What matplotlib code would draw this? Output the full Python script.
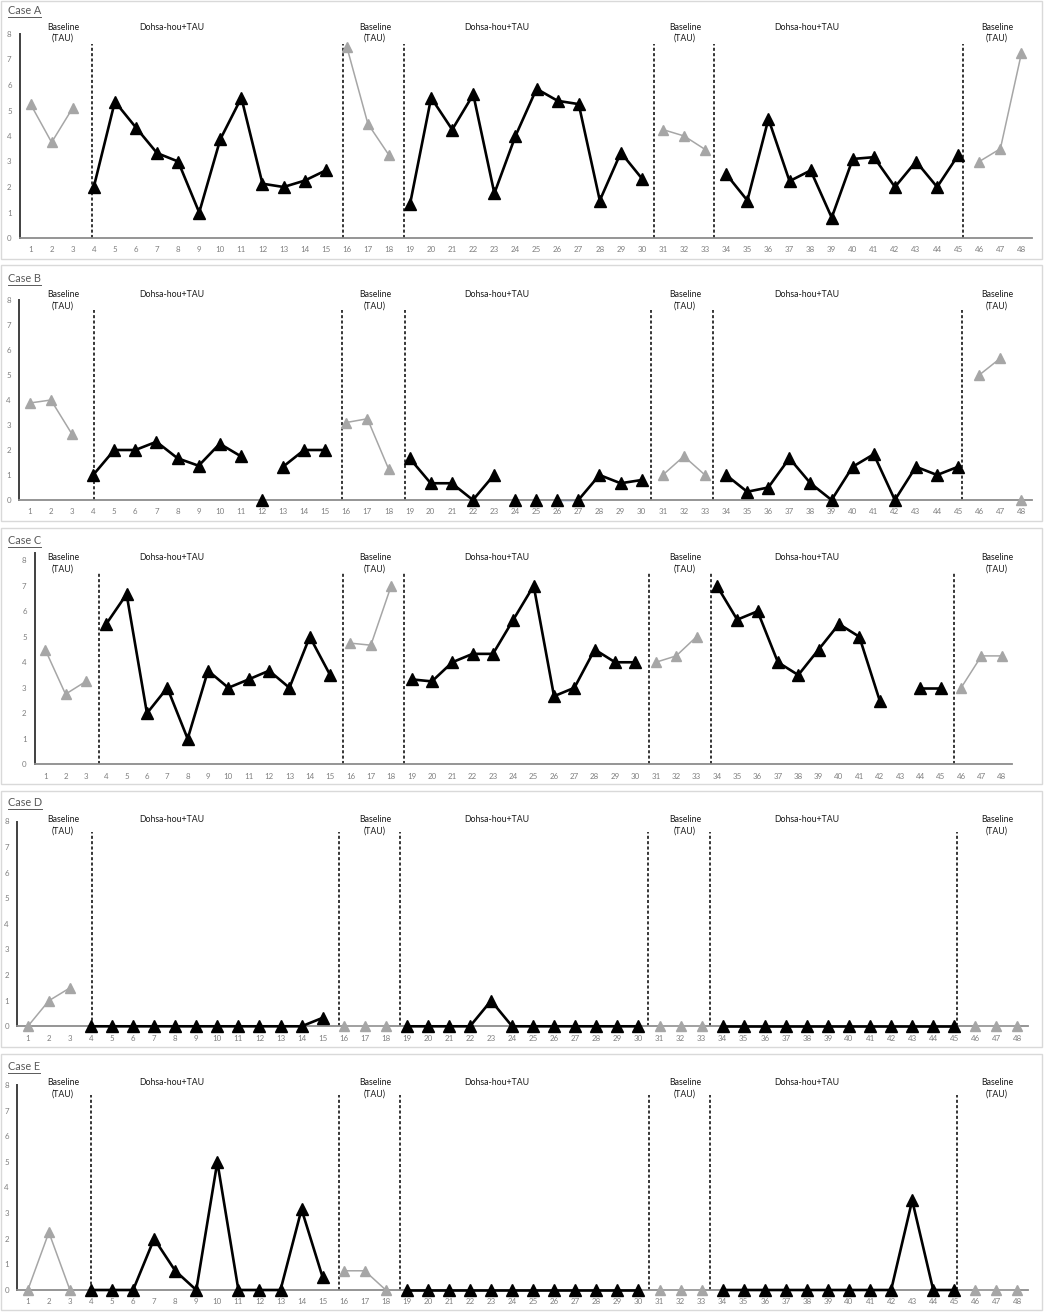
import matplotlib
matplotlib.use("Agg")
import matplotlib.pyplot as plt
import numpy as np
from matplotlib.lines import Line2D
from matplotlib.patches import Rectangle

plt.rcParams['font.family'] = ['Lato', 'DejaVu Sans']

nan = np.nan
sessions = np.arange(1, 49)

# phases: first session of each phase
phase_starts = [1, 4, 16, 19, 31, 34, 46]
phase_kinds = ['base', 'tx', 'base', 'tx', 'base', 'tx', 'base']
base_label = 'Baseline\n(TAU)'
tx_label = 'Dohsa-hou+TAU'

case_names = ['Case A', 'Case B', 'Case C', 'Case D', 'Case E']

case_a = [5.25, 3.75, 5.1,
          2.0, 5.35, 4.33, 3.33, 3.0, 1.0, 3.87, 5.5, 2.13, 2.0, 2.25, 2.65,
          7.5, 4.48, 3.25,
          1.33, 5.5, 4.25, 5.63, 1.75, 4.0, 5.85, 5.38, 5.25, 1.47, 3.35, 2.33,
          4.25, 4.0, 3.47,
          2.5, 1.47, 4.67, 2.23, 2.65, 0.8, 3.1, 3.17, 2.0, 3.0, 2.0, 3.25,
          3.0, 3.5, 7.25]
case_b = [3.88, 4.0, 2.63,
          1.0, 2.0, 2.0, 2.33, 1.67, 1.37, 2.25, 1.75, 0, 1.33, 2.0, 2.0,
          3.1, 3.25, 1.25,
          1.67, 0.67, 0.67, 0, 1.0, 0, 0, 0, 0, 1.0, 0.67, 0.8,
          1.0, 1.75, 1.0,
          1.0, 0.33, 0.5, 1.67, 0.67, 0, 1.33, 1.83, 0, 1.33, 1.0, 1.33,
          5.0, 5.67, 0]
case_c = [4.5, 2.75, 3.25,
          5.5, 6.67, 2.0, 3.0, 1.0, 3.67, 3.0, 3.33, 3.67, 3.0, 5.0, 3.5,
          4.75, 4.67, 7.0,
          3.33, 3.25, 4.0, 4.33, 4.33, 5.67, 7.0, 2.67, 3.0, 4.5, 4.0, 4.0,
          4.0, 4.25, 5.0,
          7.0, 5.67, 6.0, 4.0, 3.5, 4.5, 5.5, 5.0, 2.5, nan, 3.0, 3.0,
          3.0, 4.25, 4.25]
case_d = [0, 1.0, 1.5,
          0, 0, 0, 0, 0, 0, 0, 0, 0, 0, 0, 0.33,
          0, 0, 0,
          0, 0, 0, 0, 1.0, 0, 0, 0, 0, 0, 0, 0,
          0, 0, 0,
          0, 0, 0, 0, 0, 0, 0, 0, 0, 0, 0, 0,
          0, 0, 0]
case_e = [0, 2.25, 0,
          0, 0, 0, 2.0, 0.75, 0, 5.0, 0, 0, 0, 3.15, 0.5,
          0.75, 0.75, 0,
          0, 0, 0, 0, 0, 0, 0, 0, 0, 0, 0, 0,
          0, 0, 0,
          0, 0, 0, 0, 0, 0, 0, 0, 0, 3.5, 0, 0,
          0, 0, 0]

# sessions not joined to the previous point
breaks_b = [12, 13, 24, 25, 26, 27, 48]
blue_links_b = [(26, 27)]

all_cases = [case_a, case_b, case_c, case_d, case_e]
all_breaks = [[], breaks_b, [], [], []]
all_links = [[], blue_links_b, [], [], []]

# phase change lines (in session units) per case
phase_lines = [
    [3.92, 15.82, 18.72, 30.58, 33.42, 45.23],
    [4.05, 15.81, 18.78, 30.44, 33.40, 45.17],
    [3.64, 15.65, 18.63, 30.69, 33.70, 45.66],
    [4.03, 15.79, 18.67, 30.46, 33.39, 45.13],
    [3.99, 15.79, 18.67, 30.51, 33.39, 45.11],
]

W, H = 1045, 1312
fig = plt.figure(figsize=(W / 100, H / 100), dpi=100)

# layout in pixels: left, right, top, bottom, ymax
axes_px = [
    (20, 1032, 34, 238, 8.0),
    (19.3, 1032, 300, 500, 8.0),
    (35, 1012, 552.6, 764.3, 8.3),
    (17.3, 1028, 821.5, 1026.3, 8.0),
    (17.3, 1028, 1085, 1290, 8.0),
]
panels_px = [(1, 1, 1042, 259), (1, 265, 1042, 521), (1, 528, 1042, 784),
             (1, 791, 1042, 1047), (1, 1054, 1042, 1310)]
title_y = [10, 278, 540, 802, 1066]
base_label_y = [33, 300.5, 563.3, 825.5, 1088.5]
tx_label_y = [27, 294.7, 557, 819.7, 1082.7]
base_label_x = [63, 375, 685, 997]
tx_label_x = [172, 497, 807]

GRAY_PT = '#a6a6a6'
TEXT_GRAY = '#595959'
TICK_GRAY = '#7f7f7f'


def fx(px):
    return px / W


def fy(py):
    return 1 - py / H


def plot_run(ax, xs, ys, kind):
    if not xs:
        return
    if kind == 'base':
        ax.plot(xs, ys, color=GRAY_PT, lw=1.1, marker='^', ms=7.5,
                mfc=GRAY_PT, mec=GRAY_PT, clip_on=False, zorder=3)
    else:
        ax.plot(xs, ys, color='black', lw=1.9, marker='^', ms=8,
                mfc='black', mec='black', clip_on=False, zorder=3)


def draw_case(ax, values, breaks, links, vlines, ymax):
    vals = np.array(values, dtype=float)
    bounds = phase_starts + [49]
    for k, kind in enumerate(phase_kinds):
        xs_run, ys_run = [], []
        for s in range(bounds[k], bounds[k + 1]):
            v = vals[s - 1]
            if np.isnan(v) or s in breaks:
                plot_run(ax, xs_run, ys_run, kind)
                xs_run, ys_run = [], []
            if not np.isnan(v):
                xs_run.append(s)
                ys_run.append(v)
        plot_run(ax, xs_run, ys_run, kind)

    for a, b in links:
        ax.plot([a, b], [vals[a - 1], vals[b - 1]], color='#4472c4', lw=1.0,
                zorder=2.5, clip_on=False)

    top = 7.5 if ymax > 8 else 7.6
    for xv in vlines:
        ax.plot([xv, xv], [0, top], color='black', lw=1.1,
                linestyle=(0, (2, 1.5)), zorder=2)

    ax.set_xlim(0.5, 48.5)
    ax.set_ylim(0, ymax)
    ax.set_xticks(sessions)
    ax.set_xticklabels([str(s) for s in sessions])
    ax.set_yticks(range(0, 9))
    ax.tick_params(axis='both', length=0, labelsize=5.7, labelcolor=TICK_GRAY)
    ax.tick_params(axis='x', pad=6)
    ax.tick_params(axis='y', pad=6)
    for sp in ['top', 'right']:
        ax.spines[sp].set_visible(False)
    ax.spines['left'].set_color('#404040')
    ax.spines['left'].set_linewidth(1.4)
    ax.spines['bottom'].set_color('#8c8c8c')
    ax.spines['bottom'].set_linewidth(1.3)
    ax.patch.set_alpha(0)


for i, name in enumerate(case_names):
    x0, y0, x1, y1 = panels_px[i]
    fig.add_artist(Rectangle((fx(x0), fy(y1)), fx(x1 - x0), (y1 - y0) / H,
                             transform=fig.transFigure, fill=False,
                             edgecolor='#d9d9d9', lw=1.0))

    left, right, top, bottom, ymax = axes_px[i]
    ax = fig.add_axes([fx(left), fy(bottom), fx(right - left), (bottom - top) / H])
    draw_case(ax, all_cases[i], all_breaks[i], all_links[i], phase_lines[i], ymax)

    fig.text(fx(8), fy(title_y[i]), name, fontsize=7.8, color=TEXT_GRAY,
             ha='left', va='center')

    for bx in base_label_x:
        fig.text(fx(bx), fy(base_label_y[i]), base_label, fontsize=6.3,
                 color='#1a1a1a', ha='center', va='center', linespacing=1.3)
    for tx in tx_label_x:
        fig.text(fx(tx), fy(tx_label_y[i]), tx_label, fontsize=6.3,
                 color='#1a1a1a', ha='center', va='center')

# underline the case titles
fig.canvas.draw()
renderer = fig.canvas.get_renderer()
for t in fig.texts:
    if t.get_text() in case_names:
        bb = t.get_window_extent(renderer)
        yline = (bb.y0 - 1) / fig.bbox.height
        fig.add_artist(Line2D([bb.x0 / fig.bbox.width, bb.x1 / fig.bbox.width],
                              [yline, yline], transform=fig.transFigure,
                              color=TEXT_GRAY, lw=0.7))

fig.savefig('out.png', dpi=100)
